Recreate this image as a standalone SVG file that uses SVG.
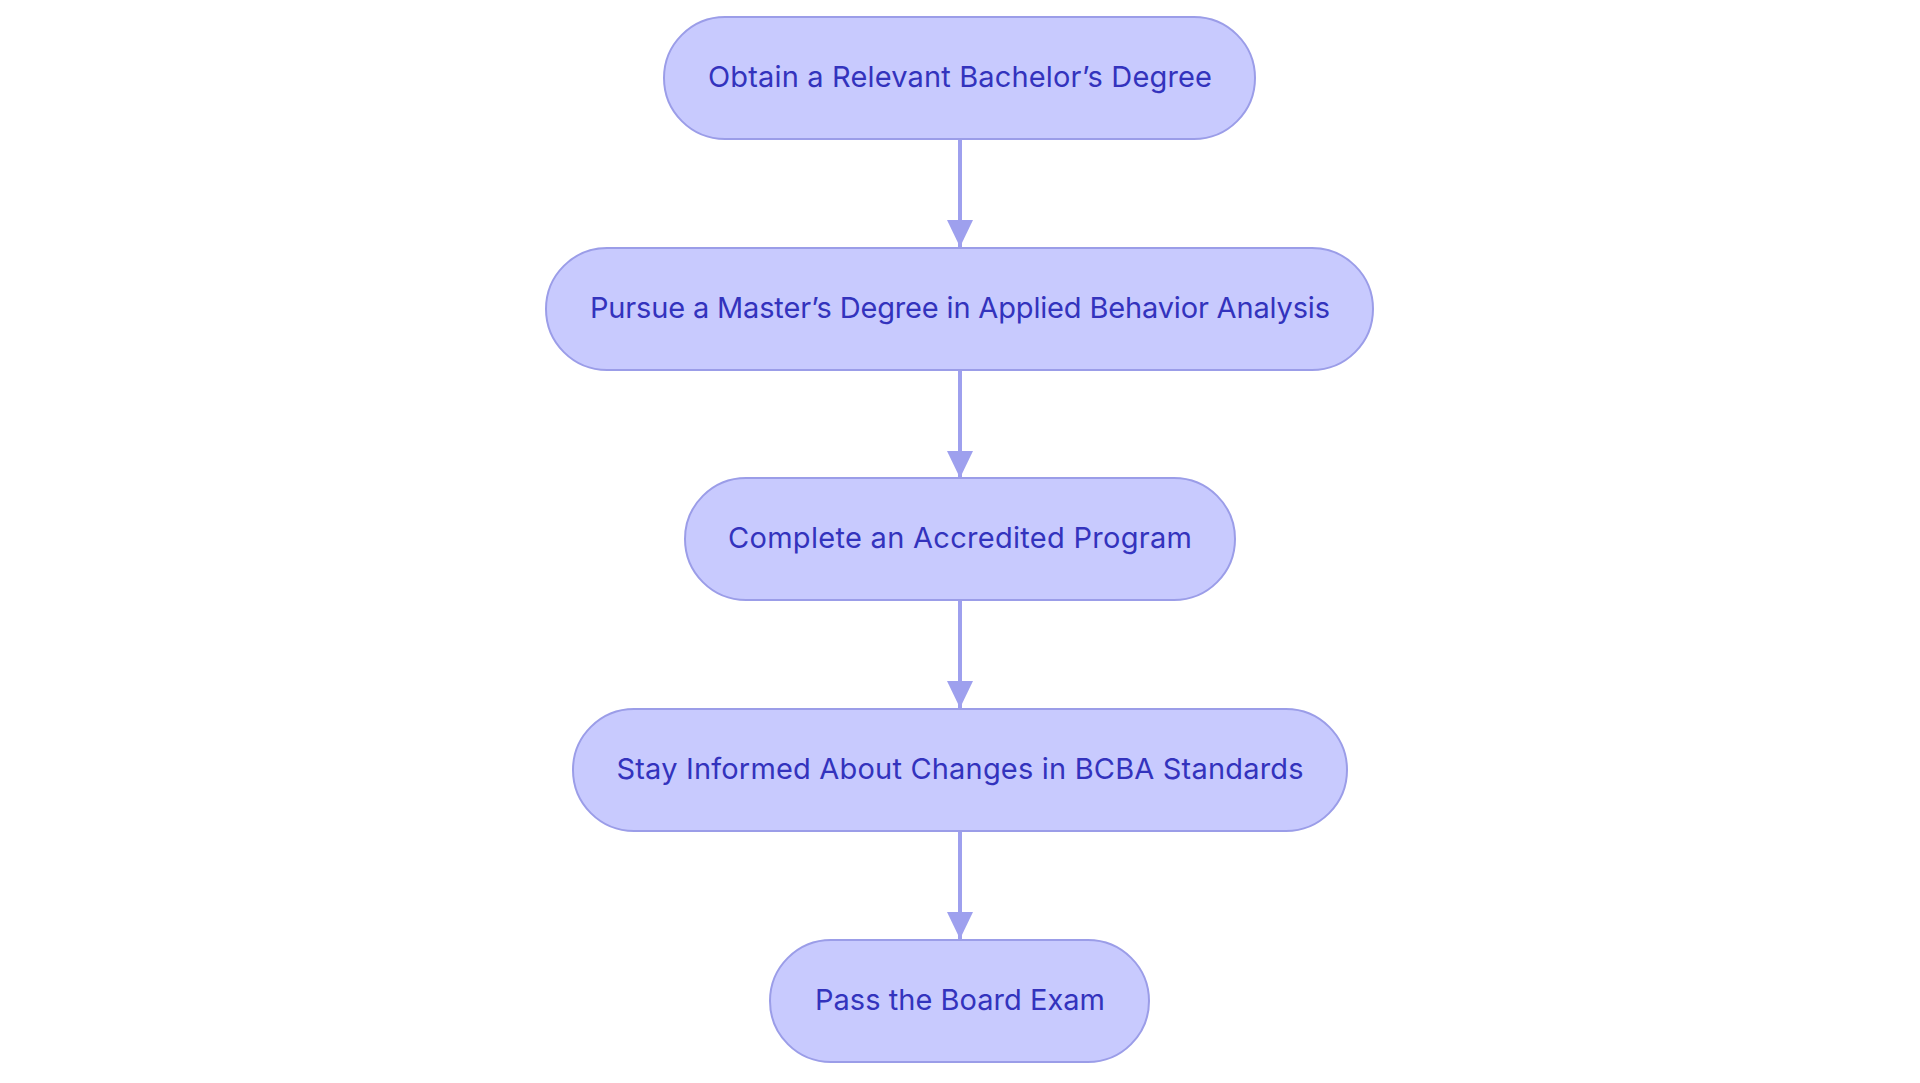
<svg xmlns="http://www.w3.org/2000/svg" width="1920" height="1083" viewBox="0 0 1920 1083">
<defs>
<style>
.node rect{fill:#c8cafe;stroke:#9b9de8;stroke-width:2}
.node text{font-family:Inter,"Noto Sans","Liberation Sans",sans-serif;font-size:29px;fill:#3333bd;text-anchor:middle}
.edge{stroke:#9ea0ee;stroke-width:4;fill:none}
</style>
<marker id="arrow" viewBox="0 0 27 26" refX="27" refY="13" markerWidth="27" markerHeight="26" markerUnits="userSpaceOnUse" orient="auto">
<path d="M0,0 L27,13 L0,26 Z" fill="#9ea0ee"/>
</marker>
</defs>
<rect width="1920" height="1083" fill="#ffffff"/>
<g id="connectors">
<line class="edge" x1="960" y1="139" x2="960" y2="247" marker-end="url(#arrow)"/>
<line class="edge" x1="960" y1="370" x2="960" y2="478" marker-end="url(#arrow)"/>
<line class="edge" x1="960" y1="600" x2="960" y2="708" marker-end="url(#arrow)"/>
<line class="edge" x1="960" y1="831" x2="960" y2="939" marker-end="url(#arrow)"/>
</g>
<g id="n1" class="node">
<rect x="664" y="17" width="591" height="122" rx="61" ry="61"/>
<text x="960" y="87" textLength="504">Obtain a Relevant Bachelor’s Degree</text>
</g>
<g id="n2" class="node">
<rect x="546" y="248" width="827" height="122" rx="61" ry="61"/>
<text x="960" y="318" textLength="740">Pursue a Master’s Degree in Applied Behavior Analysis</text>
</g>
<g id="n3" class="node">
<rect x="685" y="478" width="550" height="122" rx="61" ry="61"/>
<text x="960" y="548" textLength="464">Complete an Accredited Program</text>
</g>
<g id="n4" class="node">
<rect x="573" y="709" width="774" height="122" rx="61" ry="61"/>
<text x="960" y="779" textLength="687">Stay Informed About Changes in BCBA Standards</text>
</g>
<g id="n5" class="node">
<rect x="770" y="940" width="379" height="122" rx="61" ry="61"/>
<text x="960" y="1010" textLength="290">Pass the Board Exam</text>
</g>
</svg>
